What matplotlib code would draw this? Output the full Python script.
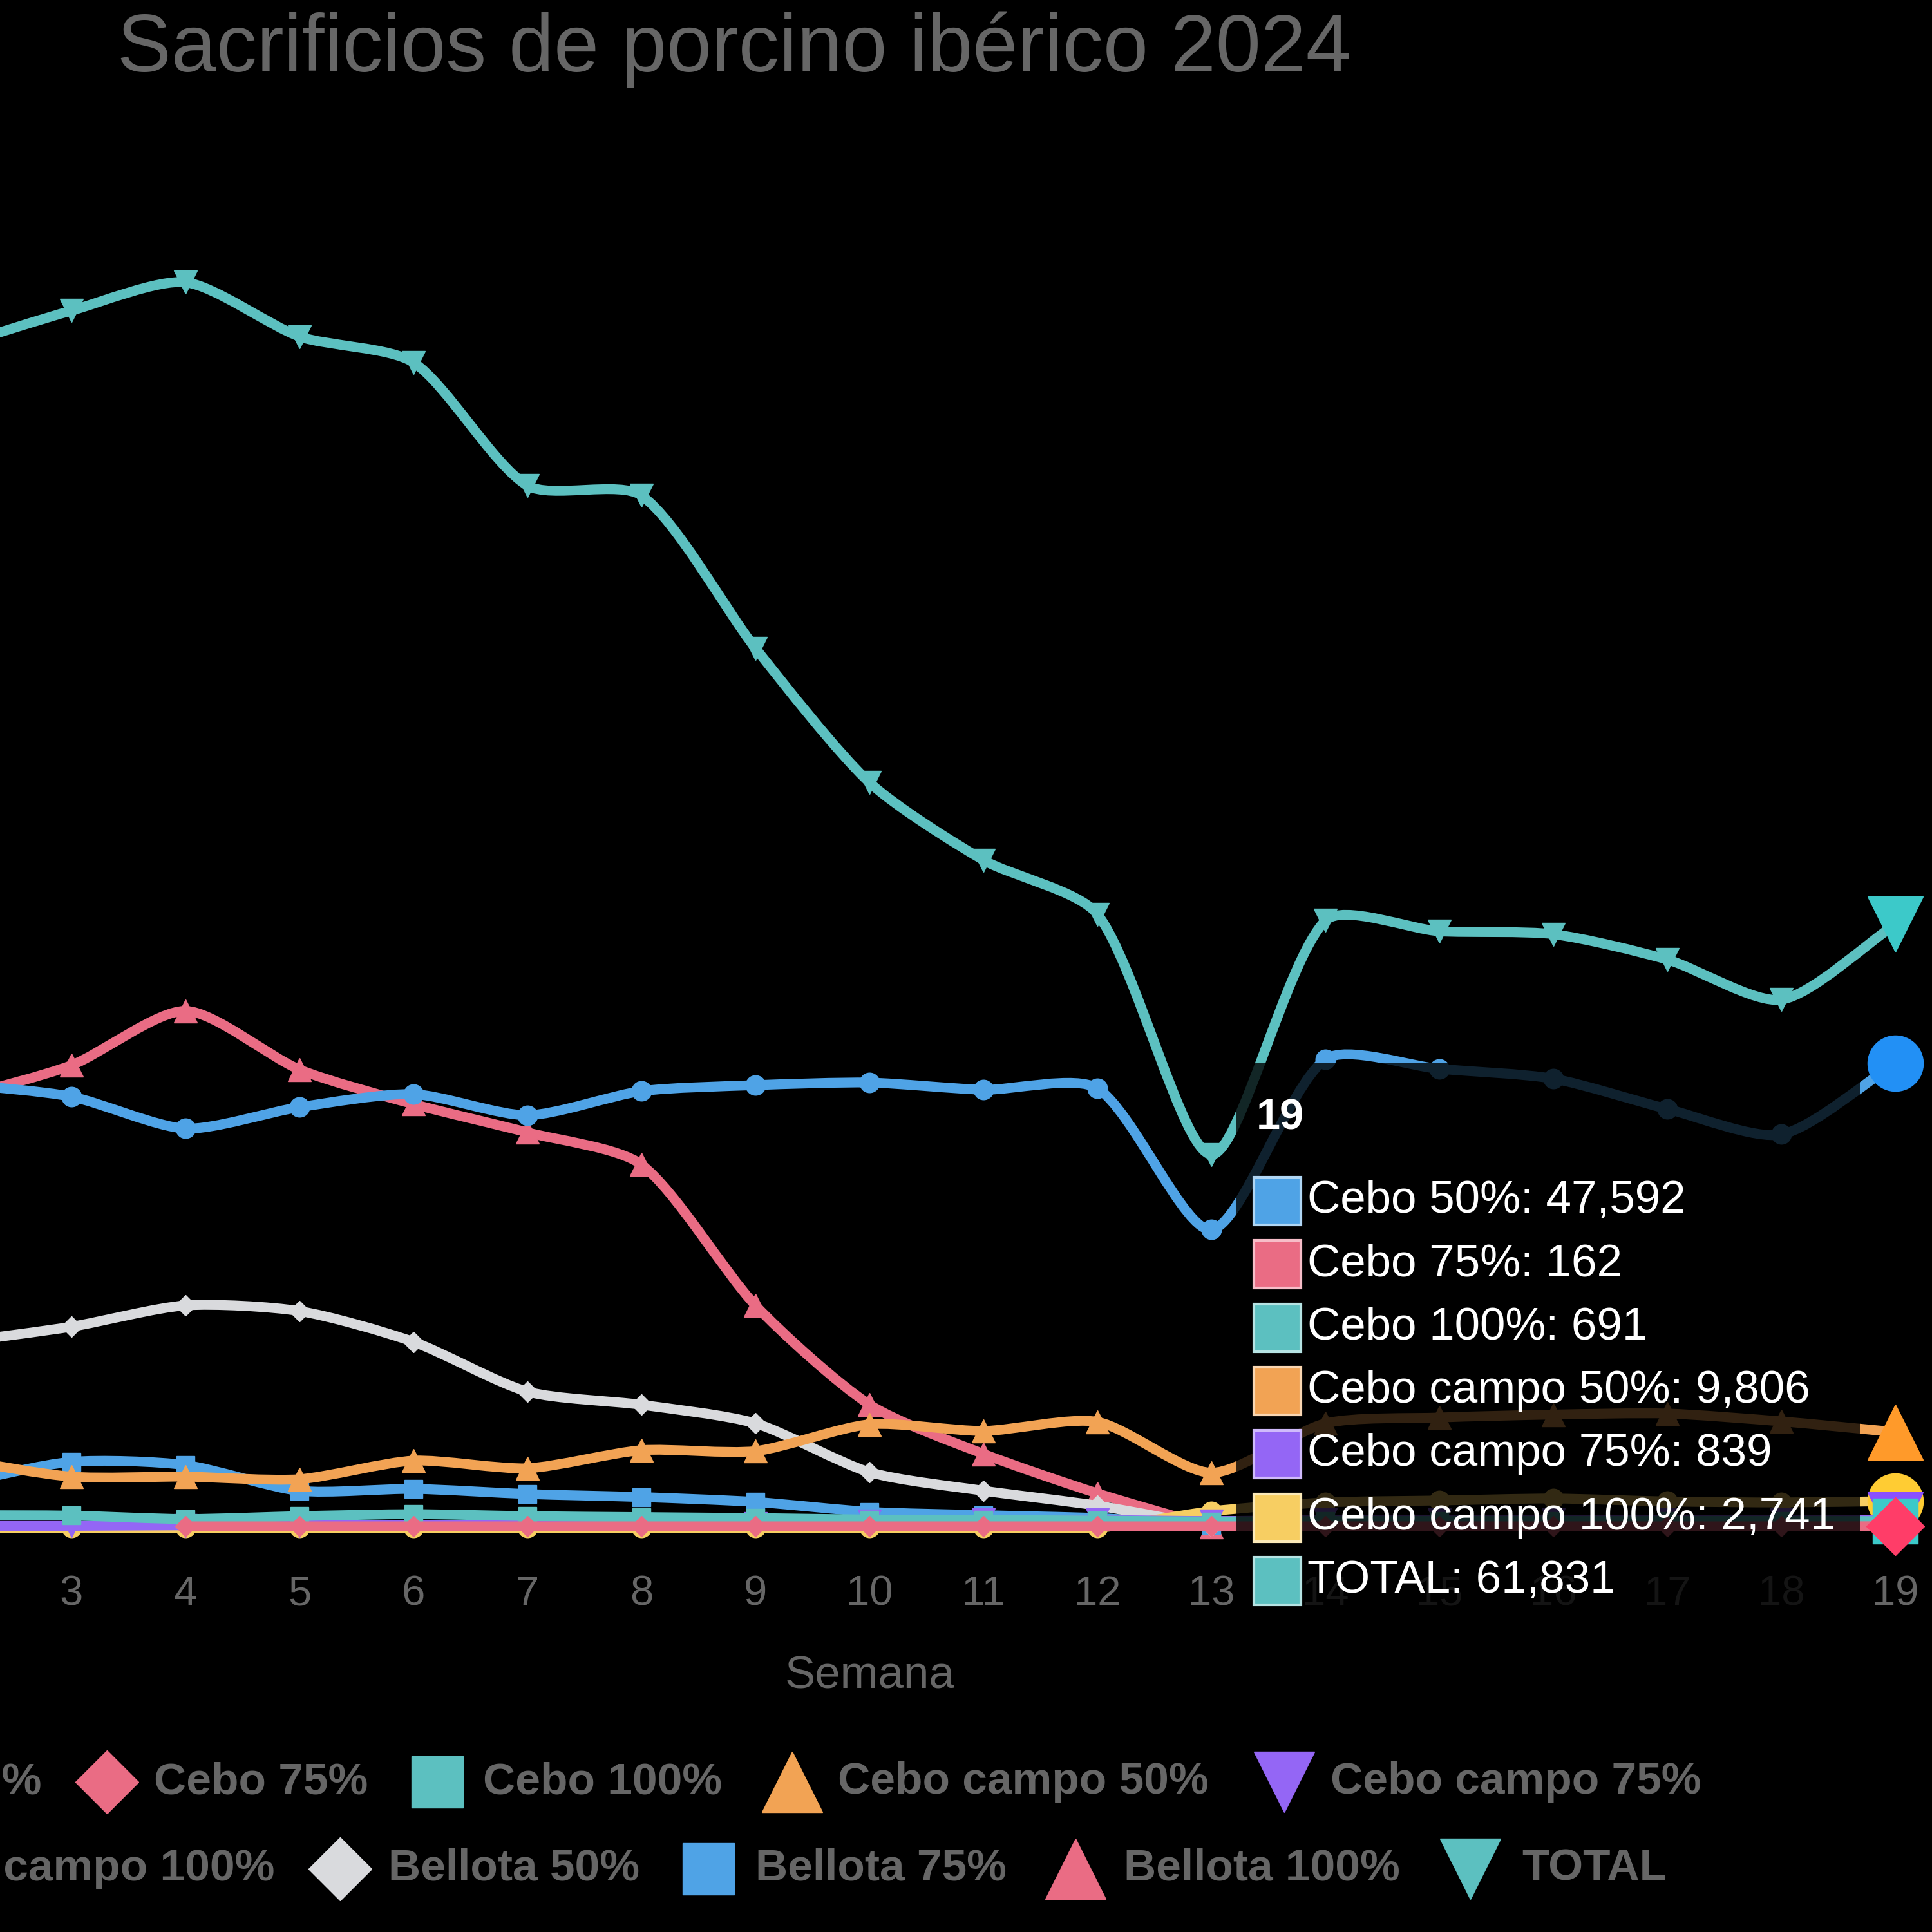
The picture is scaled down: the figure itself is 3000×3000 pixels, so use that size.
import numpy as np
import matplotlib
matplotlib.use("Agg")
import matplotlib.pyplot as plt
from matplotlib.path import Path
from matplotlib.patches import PathPatch, FancyBboxPatch, Rectangle
from matplotlib.lines import Line2D

plt.rcParams['font.family'] = ['Liberation Sans', 'DejaVu Sans']

nan = float('nan')

# ---------------- data ----------------
title = "Sacrificios de porcino ibérico 2024"
x_title = "Semana"
weeks = list(range(2, 20))
hover_week = 19

series_names = ["Cebo 50%", "Cebo 75%", "Cebo 100%", "Cebo campo 50%", "Cebo campo 75%",
                "Cebo campo 100%", "Bellota 50%", "Bellota 75%", "Bellota 100%", "TOTAL"]

cebo_50 = [45500, 44160, 40900, 43090, 44420, 42260, 44730, 45340, 45600, 44870, 45010,
           30540, 48000, 47000, 46000, 42900, 40300, 47592]
cebo_75 = [nan, nan, 150, 150, 150, 150, 150, 150, 150, 150, 150,
           150, 150, 150, 150, 150, 150, 162]
cebo_100 = [1300, 1250, 900, 1200, 1400, 1200, 1100, 1000, 850, 800, 750,
            650, 700, 700, 700, 700, 700, 691]
cebo_campo_50 = [7000, 5240, 5240, 4980, 6880, 6100, 7950, 7860, 10600, 9920, 10850,
                 5640, 10700, 11300, 11600, 11700, 10900, 9806]
cebo_campo_75 = [200, 200, 250, 250, 300, 300, 350, 400, 700, 800, 800,
                 700, 800, 800, 850, 800, 800, 839]
cebo_campo_100 = [0, 0, 0, 0, 0, 0, 0, 0, 0, 0, 0,
                  1700, 2600, 2800, 3000, 2700, 2600, 2741]
bellota_50 = [19000, 20600, 22780, 22200, 19050, 13950, 12600, 10700, 5700, 3800, 2270,
              150, nan, nan, nan, nan, nan, nan]
bellota_75 = [4500, 6760, 6430, 3790, 3990, 3460, 3150, 2650, 1640, 1300, 1000,
              300, nan, nan, nan, nan, nan, nan]
bellota_100 = [44000, 47380, 52950, 46940, 43400, 40500, 37200, 22780, 12620, 7570, 3530,
               100, nan, nan, nan, nan, nan, nan]
total = [121100, 124670, 127570, 122020, 119370, 106750, 105740, 90090, 76340, 68390, 62840,
         38230, 62200, 61100, 60800, 58200, 54100, 61831]

series_values = [cebo_50, cebo_75, cebo_100, cebo_campo_50, cebo_campo_75,
                 cebo_campo_100, bellota_50, bellota_75, bellota_100, total]

# ---------------- styles ----------------
colors = ['#4FA3E6', '#EA6C84', '#5CC0C0', '#F2A354', '#9466F5',
          '#F7CE62', '#D9DADD', '#4FA3E6', '#EA6C84', '#5CC0C0']
hover_colors = ['#2290F5', '#FF3D68', '#3CC9C9', '#FF9A2A', '#8A50FF',
                '#FFCC33', '#D0D2D6', '#2290F5', '#FF3D68', '#3CC9C9']
markers = ['o', 'D', 's', '^', 'v', 'o', 'D', 's', '^', 'v']
small_ms = {'o': 22, 'D': 16, 's': 20, '^': 26, 'v': 26}
hover_ms = {'o': 62, 'D': 46, 's': 50, '^': 62, 'v': 62}
legend_ms = {'o': 62, 'D': 50, 's': 58, '^': 68, 'v': 68}
text_gray = '#666666'
tension = 0.25
line_w = 11

W = H = 3000
def fx(px):
    return px / W
def fy(py):
    return 1 - py / H

fig = plt.figure(figsize=(30, 30), dpi=100, facecolor='black')
ax_bottom_px, ax_top_px = 2440, 300
ax = fig.add_axes([0, fy(ax_bottom_px), 1, (ax_bottom_px - ax_top_px) / H])
ax.set_facecolor('black')
for s in ax.spines.values():
    s.set_visible(False)

ax.set_xticks(weeks)
ax.set_xticklabels([str(w) for w in weeks])
ax.tick_params(axis='x', length=0, pad=4, labelsize=47, labelcolor=text_gray)
ax.set_yticks([])

xlim = (2.373, 19.32)
ylim = (-4459, 136700)
ax.set_xlim(*xlim)
ax.set_ylim(*ylim)
sx = W / (xlim[1] - xlim[0])
sy = (ax_bottom_px - ax_top_px) / (ylim[1] - ylim[0])


def chart_paths(xs, ys, tension):
    runs, cur = [], []
    for x, y in zip(xs, ys):
        if np.isnan(y):
            if cur:
                runs.append(cur)
            cur = []
        else:
            cur.append((x, y))
    if cur:
        runs.append(cur)
    paths = []
    scale = np.array([sx, sy])
    for run in runs:
        if len(run) < 2:
            continue
        P = np.array(run, float)
        Q = P * scale
        n = len(P)
        cps = []
        for i in range(n):
            prev = Q[i - 1] if i > 0 else Q[i]
            nxt = Q[i + 1] if i < n - 1 else Q[i]
            d01 = np.hypot(*(Q[i] - prev))
            d12 = np.hypot(*(nxt - Q[i]))
            tot = d01 + d12
            s01 = d01 / tot if tot else 0
            s12 = d12 / tot if tot else 0
            cps.append((Q[i] - tension * s01 * (nxt - prev),
                        Q[i] + tension * s12 * (nxt - prev)))
        verts, codes = [P[0]], [Path.MOVETO]
        for i in range(n - 1):
            c1 = cps[i][1] / scale
            c2 = cps[i + 1][0] / scale
            c1[1] = max(c1[1], 0)
            c2[1] = max(c2[1], 0)
            verts += [c1, c2, P[i + 1]]
            codes += [Path.CURVE4] * 3
        paths.append(Path(np.array(verts), codes))
    return paths


N = len(series_names)
hi = weeks.index(hover_week)
for i in reversed(range(N)):
    vals = np.array(series_values[i], float)
    z = 2 + (N - i)
    for p in chart_paths(weeks, vals, tension):
        ax.add_patch(PathPatch(p, facecolor='none', edgecolor=colors[i], lw=line_w,
                               capstyle='round', joinstyle='round', zorder=z))
    m = markers[i]
    ax.plot(weeks, vals, ls='none', marker=m, ms=small_ms[m], color=colors[i],
            mec=colors[i], zorder=z + 0.3)
    if not np.isnan(vals[hi]):
        ax.plot([hover_week], [vals[hi]], ls='none', marker=m, ms=hover_ms[m],
                color=hover_colors[i], mec=hover_colors[i], zorder=z + 0.6)

# ---------------- titles ----------------
fig.text(fx(182), fy(111), title, ha='left', va='baseline', fontsize=90.5, color=text_gray)
fig.text(fx(1351), fy(2604), x_title, ha='center', va='center', fontsize=51, color=text_gray)

# ---------------- tooltip ----------------
tip_left, tip_right, tip_top, tip_bottom = 1920, 2888, 1650, 2525
fig.add_artist(FancyBboxPatch((fx(tip_left), fy(tip_bottom)),
                              (tip_right - tip_left) / W, (tip_bottom - tip_top) / H,
                              boxstyle='round,pad=0,rounding_size=0.004',
                              transform=fig.transFigure, facecolor=(0, 0, 0, 0.8),
                              edgecolor='none', zorder=5))
fig.text(fx(1951), fy(1737), str(hover_week), ha='left', va='center', fontsize=48,
         fontweight='bold', color='white', zorder=6)
line_y0, line_dy = 1865, 98.3
k = 0
for i in range(N):
    v = series_values[i][hi]
    if np.isnan(v):
        continue
    cy = line_y0 + k * line_dy
    c = np.array(matplotlib.colors.to_rgb(colors[i]))
    edge = tuple(c * 0.45 + 0.55)
    fig.add_artist(Rectangle((fx(1947), fy(cy + 37)), 73 / W, 74 / H,
                             transform=fig.transFigure, facecolor=colors[i],
                             edgecolor=edge, lw=3, zorder=6))
    fig.text(fx(2030), fy(cy), f"{series_names[i]}: {int(v):,}", ha='left', va='center',
             fontsize=51, color='white', zorder=6)
    k += 1

# ---------------- legend ----------------
u = W / 1568
legend_rows = [
    (2767, [(0, -178, -140), (1, 87, 125), (2, 355, 392), (3, 643, 680), (4, 1042, 1080)]),
    (2902, [(5, -136, -98), (6, 276, 315), (7, 575, 613), (8, 873, 912), (9, 1193, 1235)]),
]
for ry, items in legend_rows:
    for idx, mx, tx in items:
        m = markers[idx]
        fig.add_artist(Line2D([fx(mx * u)], [fy(ry)], ls='none', marker=m, ms=legend_ms[m],
                              color=colors[idx], mec=colors[idx], transform=fig.transFigure))
        fig.text(fx(tx * u), fy(ry), series_names[idx], ha='left', va='center', fontsize=50,
                 fontweight='bold', color=text_gray)

fig.savefig('out.png', dpi=100, facecolor='black')
